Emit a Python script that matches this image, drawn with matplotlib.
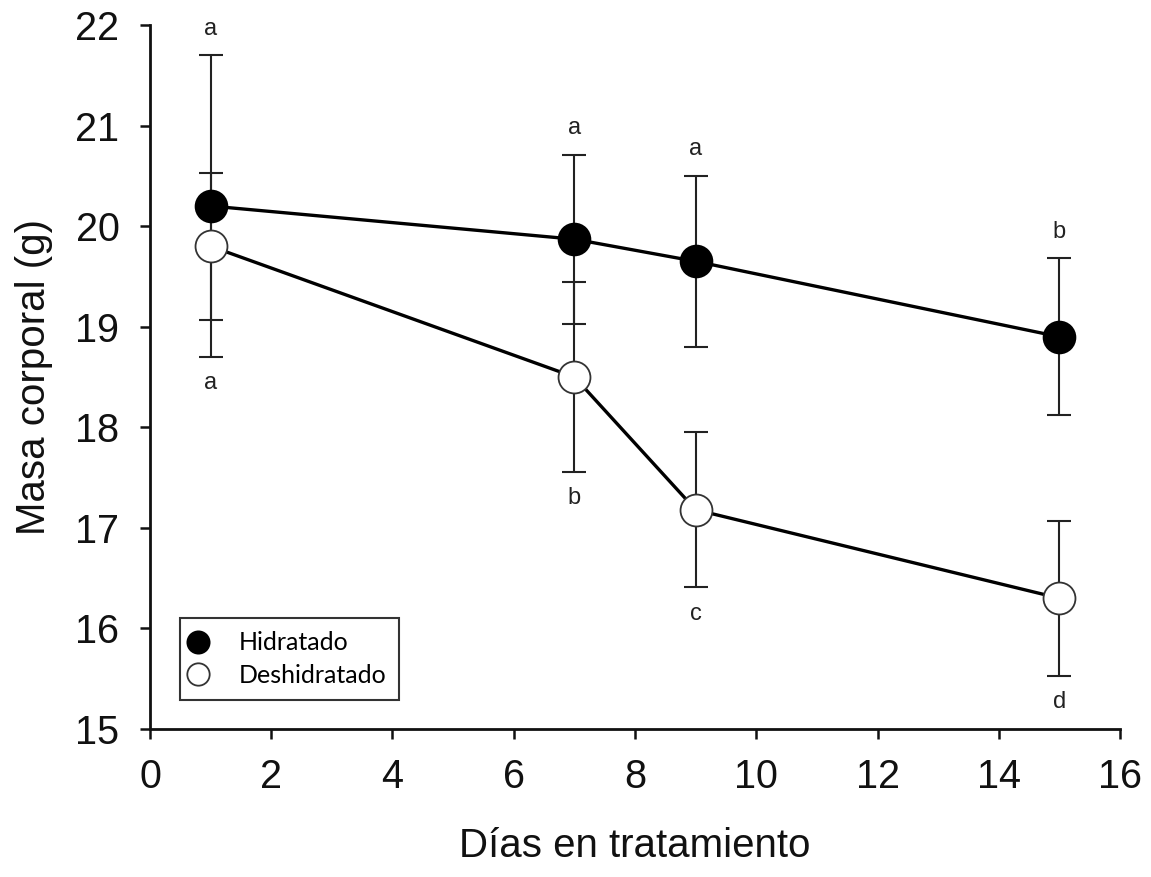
import matplotlib
matplotlib.use('Agg')
import matplotlib.pyplot as plt
import numpy as np

# days of treatment
dias = [1, 7, 9, 15]

# body mass (g), mean and error
hid_mean = [20.2, 19.87, 19.65, 18.9]
hid_err = [1.5, 0.84, 0.85, 0.78]
des_mean = [19.8, 18.5, 17.18, 16.3]
des_err = [0.73, 0.94, 0.77, 0.77]

# significance letters
hid_letras = ['a', 'a', 'a', 'b']
des_letras = ['a', 'b', 'c', 'd']

plt.rcParams['font.family'] = ['Liberation Sans', 'DejaVu Sans']

fig = plt.figure(figsize=(11.51, 8.77), dpi=100)
ax = fig.add_axes([0.1303, 0.1688, 0.8428, 0.8027])

ecol = '#222222'
ax.errorbar(dias, hid_mean, yerr=hid_err, fmt='none', ecolor=ecol,
            elinewidth=1.5, capsize=8.5, capthick=1.5, zorder=1)
ax.errorbar(dias, des_mean, yerr=des_err, fmt='none', ecolor=ecol,
            elinewidth=1.5, capsize=8.5, capthick=1.5, zorder=1)

ax.plot(dias, hid_mean, '-', color='black', lw=2.4, zorder=2)
ax.plot(dias, des_mean, '-', color='black', lw=2.4, zorder=2)
ax.plot(dias, hid_mean, 'o', ms=23, mfc='black', mec='black', mew=1.2,
        zorder=3, label='Hidratado')
ax.plot(dias, des_mean, 'o', ms=23, mfc='white', mec='#333333', mew=1.3,
        zorder=3, label='Deshidratado')

# letters go above the highest cap / below the lowest cap
hm, he = np.array(hid_mean), np.array(hid_err)
dm, de = np.array(des_mean), np.array(des_err)
top = np.maximum(hm + he, dm + de)
bot = np.minimum(hm - he, dm - de)
for x, y, l in zip(dias, top, hid_letras):
    ax.annotate(l, (x, y), xytext=(0, 19), textcoords='offset points',
                ha='center', va='center', fontsize=17, color='#222222')
for x, y, l in zip(dias, bot, des_letras):
    ax.annotate(l, (x, y), xytext=(0, -19), textcoords='offset points',
                ha='center', va='center', fontsize=17, color='#222222')

ax.set_xlim(0, 16)
ax.set_ylim(15, 22)
ax.set_xticks(np.arange(0, 17, 2))
ax.set_yticks(np.arange(15, 23, 1))
for s in ['top', 'right']:
    ax.spines[s].set_visible(False)
for s in ['left', 'bottom']:
    ax.spines[s].set_linewidth(2.0)
    ax.spines[s].set_color('#111111')
ax.tick_params(axis='both', direction='out', length=7, width=1.8,
               labelsize=28.5, color='#111111', labelcolor='#111111')
ax.tick_params(axis='x', pad=14)
ax.tick_params(axis='y', pad=15)

ax.set_xlabel('Días en tratamiento', fontsize=29, labelpad=22, color='#111111')
ax.set_ylabel('Masa corporal (g)', fontsize=29, labelpad=16, color='#111111')

leg = ax.legend(loc='lower left', bbox_to_anchor=(0.031, 0.041),
                prop={'family': 'Lato', 'size': 18},
                frameon=True, fancybox=False, edgecolor='black',
                markerscale=0.7, handlelength=0.4, handletextpad=1.4,
                borderpad=0.53, labelspacing=0.38, borderaxespad=0)
leg.get_frame().set_linewidth(1.5)

fig.savefig('out.png', dpi=100)
